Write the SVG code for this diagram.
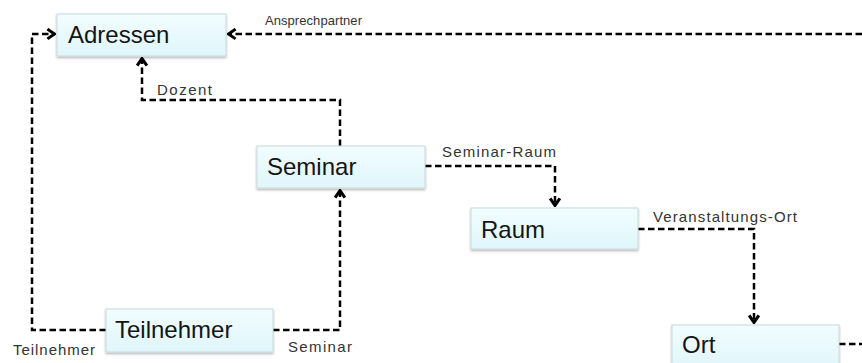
<svg xmlns="http://www.w3.org/2000/svg" width="862" height="363" viewBox="0 0 862 363">
<defs>
<linearGradient id="g" x1="0" y1="0" x2="0" y2="1">
<stop offset="0" stop-color="#f2fdff"/>
<stop offset="1" stop-color="#dff6fb"/>
</linearGradient>
<filter id="sh" x="-10%" y="-20%" width="120%" height="150%">
<feDropShadow dx="0" dy="1.5" stdDeviation="1.2" flood-color="#000" flood-opacity="0.3"/>
</filter>
<marker id="arr" viewBox="0 0 10 12" refX="9" refY="6" markerWidth="11" markerHeight="13" orient="auto" markerUnits="userSpaceOnUse">
<path d="M2,1.5 L8.5,6 L2,10.5" fill="none" stroke="#000" stroke-width="2.8"/>
</marker>
</defs>
<style>
.box{fill:url(#g);stroke:#c9dadd;stroke-width:1;filter:url(#sh)}
.nt{font-family:"Liberation Sans",Arial,sans-serif;font-size:24px;fill:#151515}
.lt{font-family:"Liberation Sans",Arial,sans-serif;font-size:15px;fill:#333}
.c{fill:none;stroke:#000;stroke-width:2.5;stroke-dasharray:6.5 3.5}
</style>
<g id="connectors">
<path class="c" d="M862,34 H228" marker-end="url(#arr)"/>
<path class="c" d="M106,330 H32 V34 H55" marker-end="url(#arr)"/>
<path class="c" d="M340,146 V100 H142 V58" marker-end="url(#arr)"/>
<path class="c" d="M273,330 H340 V190" marker-end="url(#arr)"/>
<path class="c" d="M425,166 H555 V206" marker-end="url(#arr)"/>
<path class="c" d="M638,229 H754 V323" marker-end="url(#arr)"/>
<path class="c" d="M839,344 H862"/>
<text class="lt" x="265" y="25" style="font-size:13px" textLength="97" lengthAdjust="spacing">Ansprechpartner</text>
<text class="lt" x="157" y="95" textLength="55" lengthAdjust="spacing">Dozent</text>
<text class="lt" x="442" y="157" textLength="114" lengthAdjust="spacing">Seminar-Raum</text>
<text class="lt" x="653" y="222" textLength="144" lengthAdjust="spacing">Veranstaltungs-Ort</text>
<text class="lt" x="13" y="355" textLength="82" lengthAdjust="spacing">Teilnehmer</text>
<text class="lt" x="288" y="352" textLength="64" lengthAdjust="spacing">Seminar</text>
</g>
<g id="adressen"><rect class="box" x="57" y="14" width="169" height="42"/><text class="nt" x="68" y="43">Adressen</text></g>
<g id="seminar"><rect class="box" x="257" y="146" width="168" height="42"/><text class="nt" x="267" y="175">Seminar</text></g>
<g id="raum"><rect class="box" x="471" y="208" width="167" height="41"/><text class="nt" x="481" y="238">Raum</text></g>
<g id="teilnehmer"><rect class="box" x="106" y="309" width="167" height="43"/><text class="nt" x="115" y="338">Teilnehmer</text></g>
<g id="ort"><rect class="box" x="672" y="325" width="167" height="45"/><text class="nt" x="682" y="353">Ort</text></g>
</svg>
